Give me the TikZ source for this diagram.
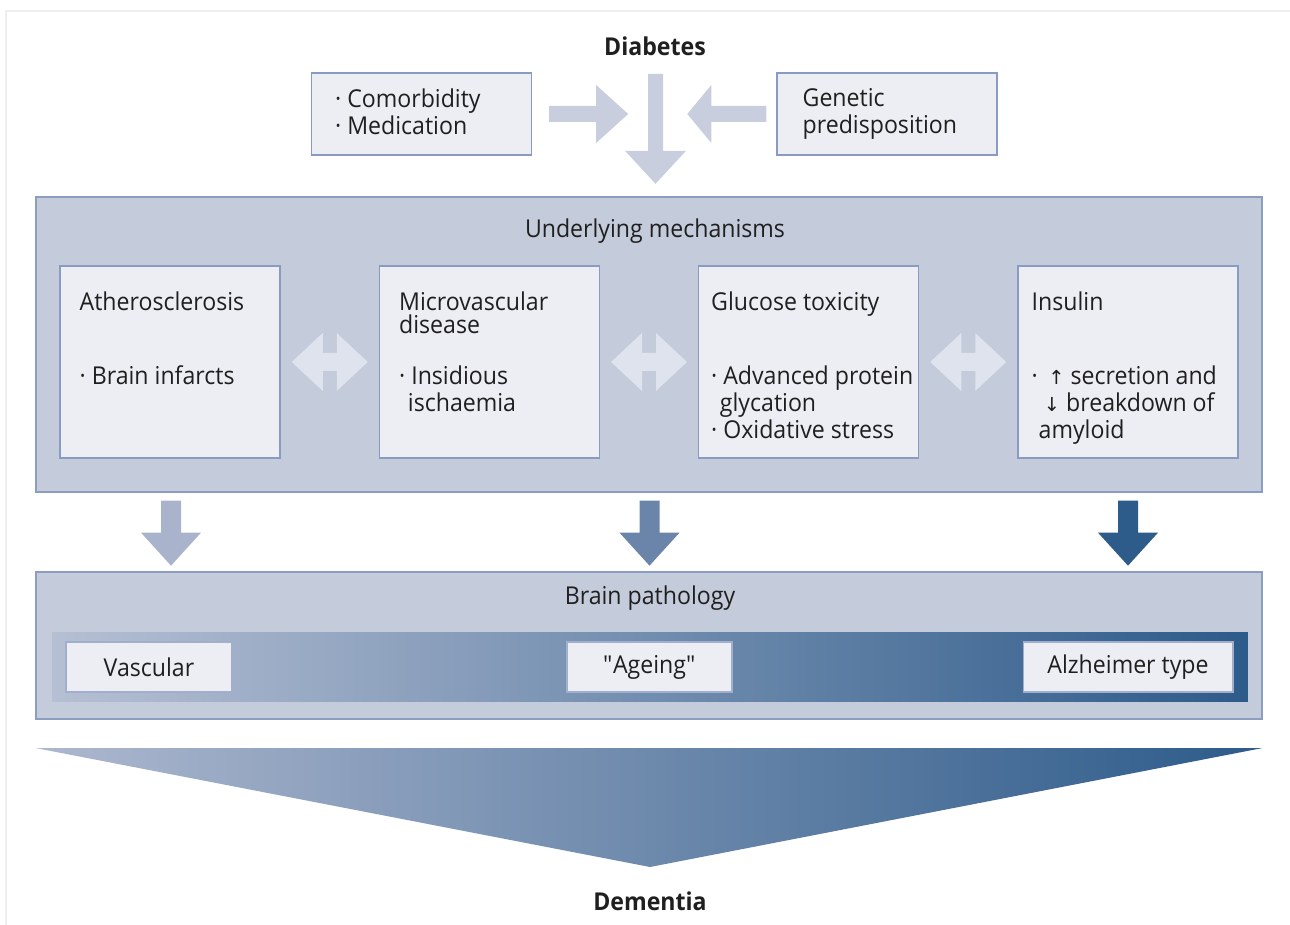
\documentclass[tikz,border=0pt]{standalone}
\usepackage{fontspec}
\setmainfont{Open Sans}[FakeStretch=0.94]
\newfontfamily\arrowfont{DejaVu Sans}
\usetikzlibrary{calc}

\definecolor{inkgray}{HTML}{1F1F1F}
\definecolor{panelfill}{HTML}{C4CBDB}
\definecolor{panelline}{HTML}{8C9DC2}
\definecolor{boxfill}{HTML}{ECEEF4}
\definecolor{boxline}{HTML}{8A9BC1}
\definecolor{toparrow}{HTML}{C8CEDD}
\definecolor{dblarrow}{HTML}{DFE3ED}
\definecolor{bluelight}{HTML}{A9B4CC}
\definecolor{bluemid}{HTML}{6B84A9}
\definecolor{bluedark}{HTML}{2D5B8A}
\definecolor{framegray}{HTML}{EEEEEE}

\begin{document}
\begin{tikzpicture}[
x=0.02cm, y=-0.02cm,
every node/.style={text=inkgray},
bodyfont/.style={font=\fontsize{14}{15.5}\selectfont},
headfont/.style={font=\fontsize{14}{15.5}\selectfont\bfseries},
panel/.style={
rectangle,
draw=panelline,
fill=panelfill,
line width=0.8pt,
minimum width=24.52cm,
inner sep=0pt
},
topbox/.style={
rectangle,
draw=boxline,
fill=boxfill,
line width=0.8pt,
minimum width=4.4cm,
minimum height=1.64cm,
inner sep=0pt
},
mechbox/.style={
rectangle,
draw=boxline,
fill=boxfill,
line width=0.8pt,
minimum width=4.4cm,
minimum height=3.84cm,
inner sep=0pt
},
pathbox/.style={
rectangle,
draw=boxline!80,
fill=boxfill,
line width=0.6pt,
minimum height=1cm,
inner sep=0pt,
bodyfont
},
boxtext/.style={
inner sep=0pt,
align=left,
anchor=north west,
bodyfont
}
]

\useasboundingbox (0,0) rectangle (1290,925);
\draw[framegray, line width=1pt] (6,925) -- (6,11) -- (1290,11);

% top row
\node[headfont, inner sep=0pt] (diabetes) at (655,46) {Diabetes};
\node[topbox] (comorb) at (421.5,114) {};
\node[boxtext] at ($(comorb.north west)+(24,16)$) {· Comorbidity\\· Medication};
\node[topbox] (genetic) at (887,114) {};
\node[boxtext] at ($(genetic.north west)+(26,16)$) {Genetic\\predisposition};

% mechanisms
\node[panel, minimum height=5.9cm] (mech) at (649,344.5) {};
\node[bodyfont, inner sep=0pt] (mechtitle) at (655,231) {Underlying mechanisms};

\node[mechbox] (athero) at (170,362) {};
\node[mechbox] (micro) at (489.5,362) {};
\node[mechbox] (glucose) at (808.5,362) {};
\node[mechbox] (insulin) at (1128,362) {};

\node[boxtext] at ($(athero.north west)+(20,26)$) {Atherosclerosis};
\node[boxtext] at ($(athero.north west)+(20,100)$) {· Brain infarcts};
\node[boxtext] at ($(micro.north west)+(20,26)$) {Microvascular\\[-2.5pt]disease};
\node[boxtext] at ($(micro.north west)+(20,100)$) {· Insidious\\\hspace{5pt}ischaemia};
\node[boxtext] at ($(glucose.north west)+(13,26)$) {Glucose toxicity};
\node[boxtext] at ($(glucose.north west)+(13,100)$) {· Advanced protein\\\hspace{5pt}glycation\\· Oxidative stress};
\node[boxtext] at ($(insulin.north west)+(14,26)$) {Insulin};
\node[boxtext] at ($(insulin.north west)+(14,100)$) {·\hspace{6pt}{\arrowfont\fontsize{11}{15.5}\selectfont ↑} secretion and\\\hspace{7pt}{\arrowfont\fontsize{11}{15.5}\selectfont ↓} breakdown of\\\hspace{4pt}amyloid};

% brain pathology
\node[panel, minimum height=2.94cm] (path) at (649,645.5) {};
\node[bodyfont, inner sep=0pt] (pathtitle) at (650,598) {Brain pathology};
\node[rectangle, inner sep=0pt, minimum width=23.92cm, minimum height=1.4cm, left color=bluelight!85!white, right color=bluedark] (band) at (650,667) {};
\node[pathbox, minimum width=3.32cm] (vascular) at (149,667) {Vascular};
\node[pathbox, minimum width=3.3cm] (ageing) at (649.5,667) {\textquotedbl Ageing\textquotedbl};
\node[pathbox, minimum width=4.2cm] (alzheimer) at (1128,667) {Alzheimer type};

% dementia
\coordinate (apex) at (650,867);
\shade[left color=bluelight!95!white, right color=bluedark] (path.south west |- 0,748) -- (path.south east |- 0,748) -- (apex) -- cycle;
\node[headfont, inner sep=0pt] (dementia) at (650,901) {Dementia};

% block arrows, top
\fill[toparrow] ($(comorb.east)+(17,-8)$) -- ++(47,0) -- ++(0,-21) -- ++(32,29) -- ++(-32,29) -- ++(0,-21) -- ++(-47,0) -- cycle;
\fill[toparrow] ($(genetic.west)+(-10,-8)$) -- ++(-55,0) -- ++(0,-21) -- ++(-24,29) -- ++(24,29) -- ++(0,-21) -- ++(55,0) -- cycle;
\fill[toparrow] ($(diabetes.south)+(-7,18)$) -- ++(15,0) -- ++(0,77) -- ++(23,0) -- ++(-30.5,33) -- ++(-30.5,-33) -- ++(23,0) -- cycle;

% double arrows between mechanisms
\fill[dblarrow, shift={($(athero.east)!.5!(micro.west)$)}] (-38,0) -- (-7,-29) -- (-7,-9) -- (7,-9) -- (7,-29) -- (38,0) -- (7,29) -- (7,9) -- (-7,9) -- (-7,29) -- cycle;
\fill[dblarrow, shift={($(micro.east)!.5!(glucose.west)$)}] (-38,0) -- (-7,-29) -- (-7,-9) -- (7,-9) -- (7,-29) -- (38,0) -- (7,29) -- (7,9) -- (-7,9) -- (-7,29) -- cycle;
\fill[dblarrow, shift={($(glucose.east)!.5!(insulin.west)$)}] (-38,0) -- (-7,-29) -- (-7,-9) -- (7,-9) -- (7,-29) -- (38,0) -- (7,29) -- (7,9) -- (-7,9) -- (-7,29) -- cycle;

% block arrows, mechanisms to pathology
\fill[bluelight] ($(athero.south |- mech.south)+(-9,8)$) -- ++(20,0) -- ++(0,32) -- ++(20,0) -- ++(-30,33) -- ++(-30,-33) -- ++(20,0) -- cycle;
\fill[bluemid] ($(ageing.north |- mech.south)+(-10,8)$) -- ++(20,0) -- ++(0,32) -- ++(20,0) -- ++(-30,33) -- ++(-30,-33) -- ++(20,0) -- cycle;
\fill[bluedark] ($(insulin.south |- mech.south)+(-10,8)$) -- ++(20,0) -- ++(0,32) -- ++(20,0) -- ++(-30,33) -- ++(-30,-33) -- ++(20,0) -- cycle;

\end{tikzpicture}
\end{document}
